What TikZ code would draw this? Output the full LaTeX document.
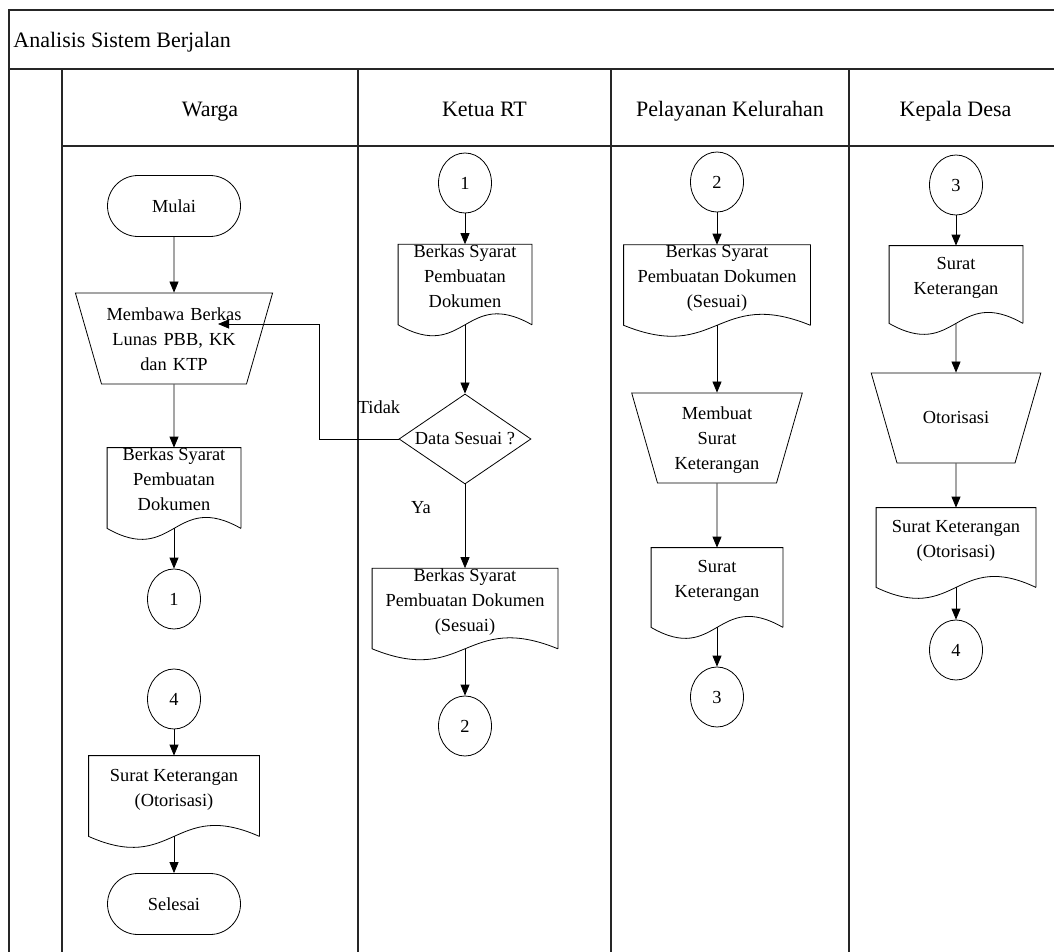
\documentclass[tikz,border=0pt]{standalone}
\usepackage{fontspec}
\setmainfont{Liberation Serif}
\usetikzlibrary{positioning,shapes.geometric,shapes.misc,arrows.meta,calc}

\newcommand{\gelombang}[1]{%
\draw[-] (#1.south east) -- (#1.north east) -- (#1.north west) -- (#1.south west)
 .. controls ($(#1.south)+(0,-38)$) and ($(#1.south)+(0,38)$) .. (#1.south east);}

\begin{document}
\begin{tikzpicture}[x=1pt ,y=1pt ,-{Triangle[length=11pt,width=9pt]} ,on grid ,
line width=0.8pt ,
every node/.style ={font=\fontsize{18.4}{25}\selectfont ,align=center ,inner sep=0pt},
lajur/.style ={font=\fontsize{22}{26}\selectfont ,text height=14.6pt ,text depth=0pt},
garis/.style ={- ,line width=1.5pt ,black!85},
terminal/.style ={rounded rectangle ,draw ,minimum width=133pt ,minimum height=61pt},
manual/.style ={trapezium ,trapezium angle=74 ,shape border rotate=180 ,draw},
dokumen/.style ={rectangle ,text depth=17pt},
keputusan/.style ={diamond ,draw ,aspect=1.47 ,minimum width=132pt ,minimum height=90pt},
konektor/.style ={ellipse ,draw ,minimum width=53pt ,minimum height=60pt}]
\useasboundingbox (0,0) rectangle (1054,-952);
\draw[garis] (9,-952) -- (9,-10) -- (1054,-10);
\draw[garis] (9,-69) -- (1054,-69);
\draw[garis] (62,-146) -- (1054,-146);
\foreach \x in {62,358,611,849} \draw[garis] (\x,-69) -- (\x,-952);
\node[lajur,anchor=west] (judul) at (13,-40.5) {Analisis Sistem Berjalan};
\node[lajur] (hwarga) at (210,-109.5) {Warga};
\node[lajur] (hketua) at (484.5,-109.5) {Ketua RT};
\node[lajur] (hpelayanan) at (730,-109.5) {Pelayanan Kelurahan};
\node[lajur] (hkepala) at (955.5,-109.5) {Kepala Desa};

\node[terminal] (mulai) at (174,-206) {Mulai};
\node[manual,text width=145pt,text height=27pt,text depth=64pt] (bawa) [below=132.5pt of mulai] {Membawa Berkas\\Lunas PBB, KK\\dan KTP};
\node[dokumen,minimum width=133pt,minimum height=80pt] (berkasW) [below=149.5pt of bawa] {Berkas Syarat\\Pembuatan\\Dokumen};
\node[konektor] (w1) [below=111pt of berkasW] {1};
\node[konektor] (w4) [below=100pt of w1] {4};
\node[dokumen,minimum width=170pt,minimum height=80pt] (suratW) [below=97pt of w4] {Surat Keterangan\\(Otorisasi)};
\node[terminal] (selesai) [below=108pt of suratW] {Selesai};

\node[konektor] (k1) at (465,-183) {1};
\node[dokumen,minimum width=133pt,minimum height=77pt] (berkasK) [below=101.5pt of k1] {Berkas Syarat\\Pembuatan\\Dokumen};
\node[keputusan] (cek) [below=154.5pt of berkasK] {Data Sesuai ?};
\node[dokumen,minimum width=185pt,minimum height=79pt] (sesuaiK) [below=169.5pt of cek] {Berkas Syarat\\Pembuatan Dokumen\\(Sesuai)};
\node[konektor] (k2) [below=117.5pt of sesuaiK] {2};
\node (tidak) at (379,-407) {Tidak};
\node (ya) at (421,-508) {Ya};
\coordinate (belok) at (319,-324);
\coordinate (ujung) at (218,-324);

\node[konektor] (p2) at (717,-182) {2};
\node[dokumen,minimum width=186pt,minimum height=78pt] (sesuaiP) [below=103pt of p2] {Berkas Syarat\\Pembuatan Dokumen\\(Sesuai)};
\node[manual,text width=119pt,text height=26pt,text depth=64pt] (buat) [below=153pt of sesuaiP] {Membuat\\Surat\\Keterangan};
\node[dokumen,minimum width=131pt,minimum height=79pt] (suratP) [below=149.5pt of buat] {Surat\\Keterangan};
\node[konektor] (p3) [below=109.5pt of suratP] {3};

\node[konektor] (d3) at (956,-185) {3};
\node[dokumen,minimum width=133pt,minimum height=77pt] (suratD) [below=99.5pt of d3] {Surat\\Keterangan};
\node[manual,text width=118pt,text height=50pt,text depth=40pt] (otor) [below=133.5pt of suratD] {Otorisasi};
\node[dokumen,minimum width=159pt,minimum height=79pt] (otorD) [below=129.5pt of otor] {Surat Keterangan\\(Otorisasi)};
\node[konektor] (d4) [below=102.5pt of otorD] {4};

\foreach \n in {berkasW,suratW,berkasK,sesuaiK,sesuaiP,suratP,suratD,otorD} {\gelombang{\n}}

\draw (mulai) -- (bawa);
\draw (bawa) -- (berkasW);
\draw (berkasW) -- (w1);
\draw (w4) -- (suratW);
\draw (suratW) -- (selesai);
\draw (k1) -- (berkasK);
\draw (berkasK) -- (cek);
\draw (cek) -- (sesuaiK);
\draw (sesuaiK) -- (k2);
\draw (cek.west) -| (belok) -- (ujung);
\draw (p2) -- (sesuaiP);
\draw (sesuaiP) -- (buat);
\draw (buat) -- (suratP);
\draw (suratP) -- (p3);
\draw (d3) -- (suratD);
\draw (suratD) -- (otor);
\draw (otor) -- (otorD);
\draw (otorD) -- (d4);
\end{tikzpicture}
\end{document}
